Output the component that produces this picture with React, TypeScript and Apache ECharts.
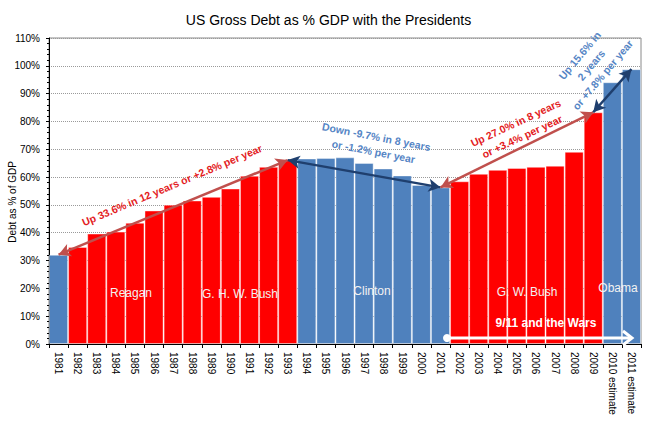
import React, { useEffect, useRef } from "react";
import * as echarts from "echarts";

const TITLE = "US Gross Debt as % GDP with the Presidents";
const years = [
  "1981", "1982", "1983", "1984", "1985", "1986", "1987", "1988", "1989", "1990",
  "1991", "1992", "1993", "1994", "1995", "1996", "1997", "1998", "1999", "2000",
  "2001", "2002", "2003", "2004", "2005", "2006", "2007", "2008", "2009",
  "2010 estimate", "2011 estimate",
];
const debt = [
  32.1, 34.9, 39.7, 40.4, 43.6, 48.0, 50.1, 51.6, 52.9, 55.9,
  60.5, 63.7, 66.1, 66.7, 66.9, 67.1, 65.1, 63.1, 60.6, 57.2,
  56.3, 58.5, 61.2, 62.6, 63.3, 63.7, 64.1, 69.1, 83.3,
  94.1, 98.8,
];
const party = [
  "D", "R", "R", "R", "R", "R", "R", "R", "R", "R",
  "R", "R", "R", "D", "D", "D", "D", "D", "D", "D",
  "D", "R", "R", "R", "R", "R", "R", "R", "R",
  "D", "D",
];
// arrows: [fromIndex, toIndex, colorKey]
const arrows: [number, number, string][] = [
  [0, 12, "R"],
  [12, 20, "D"],
  [20, 28, "R"],
  [28, 30, "D"],
];
const presidents = ["Reagan", "G. H. W. Bush", "Clinton", "G. W. Bush", "Obama"];
const annotations = [
  "Up 33.6% in 12 years or +2.8% per year",
  "Down -9.7% in 8 years\nor -1.2% per year",
  "Up 27.0% in 8 years\nor +3.4% per year",
  "Up 15.6% in\n2 years\nor +7.8% per year",
];
const yTicks = { min: 0, max: 110, interval: 10 };

const RED = "#FF0000";
const BLUE = "#4F81BD";
const ARROW_RED = "#C0504D";
const ARROW_BLUE = "#1F3F6E";
const TEXT_RED = "#E31B23";
const TEXT_BLUE = "#5585C5";
const FONT = "'Liberation Sans', Arial, sans-serif";

export default function App() {
  const ref = useRef<HTMLDivElement>(null);
  useEffect(() => {
    document.body.style.margin = "0";
    if (!ref.current) return;
    const chart = echarts.init(ref.current, null, { renderer: "svg" });
    const deg = (d: number) => (d * Math.PI) / 180;
    const presPos = [
      [131, 293],
      [240, 294],
      [372, 291],
      [527, 292],
      [618, 288],
    ];
    const annPos: [number, number, number, string][] = [
      [172, 185, 22.8, TEXT_RED],
      [375, 144, -11, TEXT_BLUE],
      [519, 130, 25, TEXT_RED],
      [591, 65, 50, TEXT_BLUE],
    ];
    const option: any = {
      animation: false,
      textStyle: { fontFamily: FONT },
      title: {
        text: TITLE,
        left: "center",
        top: 8,
        textStyle: { fontFamily: FONT, fontSize: 14, fontWeight: "normal", color: "#000" },
      },
      grid: {
        left: 49,
        right: 16,
        top: 38,
        bottom: 80,
        show: true,
        borderColor: "#8a8a8a",
        borderWidth: 1,
      },
      xAxis: {
        type: "category",
        data: years,
        axisLine: { lineStyle: { color: "#000", width: 1 } },
        axisTick: { show: true, length: 4, lineStyle: { color: "#000" } },
        axisLabel: {
          rotate: -90,
          interval: 0,
          fontSize: 10,
          fontFamily: FONT,
          color: "#000",
          margin: 8,
        },
      },
      yAxis: {
        type: "value",
        min: yTicks.min,
        max: yTicks.max,
        interval: yTicks.interval,
        axisLine: { show: true, lineStyle: { color: "#000", width: 1 } },
        axisTick: { show: true, length: 3, lineStyle: { color: "#000" } },
        minorTick: { show: true, splitNumber: 5, length: 2, lineStyle: { color: "#000" } },
        axisLabel: { formatter: "{value}%", fontSize: 10, fontFamily: FONT, color: "#000", margin: 9 },
        splitLine: { lineStyle: { type: "dotted", color: "#9a9a9a", width: 1 } },
      },
      series: [
        {
          type: "bar",
          data: debt.map((v, i) => ({
            value: v,
            itemStyle: { color: party[i] === "R" ? RED : BLUE },
          })),
          barCategoryGap: "0%",
          itemStyle: { borderColor: "rgba(255,255,255,0.42)", borderWidth: 1 },
          markLine: {
            silent: true,
            symbol: ["arrow", "arrow"],
            symbolSize: [10, 12],
            label: { show: false },
            lineStyle: { width: 2.5, type: "solid" },
            data: arrows.map(([a, b, c]) => [
              {
                coord: [years[a], debt[a]],
                lineStyle: { color: c === "R" ? ARROW_RED : ARROW_BLUE, width: 2.5, type: "solid" },
                itemStyle: { color: c === "R" ? ARROW_RED : ARROW_BLUE },
              },
              { coord: [years[b], debt[b]] },
            ]),
          },
        },
      ],
      graphic: [
        {
          type: "text",
          x: 12,
          y: 202,
          rotation: deg(90),
          style: {
            text: "Debt as % of GDP",
            fontSize: 10,
            fontFamily: FONT,
            fill: "#000",
            textAlign: "center",
            textVerticalAlign: "middle",
          },
        },
        ...presidents.map((p, i) => ({
          type: "text",
          x: presPos[i][0],
          y: presPos[i][1],
          z: 10,
          style: {
            text: p,
            fontSize: 12,
            fontFamily: FONT,
            fill: "#f2f2f2",
            textAlign: "center",
            textVerticalAlign: "middle",
          },
        })),
        ...annotations.map((t, i) => ({
          type: "text",
          x: annPos[i][0],
          y: annPos[i][1],
          rotation: deg(annPos[i][2]),
          z: 10,
          style: {
            text: t,
            fontSize: 10.5,
            fontWeight: "bold",
            fontFamily: FONT,
            fill: annPos[i][3],
            textAlign: "center",
            textVerticalAlign: "middle",
            lineHeight: 15,
          },
        })),
        {
          type: "line",
          z: 10,
          shape: { x1: 447, y1: 338, x2: 631, y2: 338 },
          style: { stroke: "#fff", lineWidth: 3 },
        },
        {
          type: "circle",
          z: 10,
          shape: { cx: 447, cy: 338, r: 4 },
          style: { fill: "#fff" },
        },
        {
          type: "polyline",
          z: 10,
          shape: { points: [[623, 331], [632, 338], [623, 345]] },
          style: { stroke: "#fff", lineWidth: 3, fill: null },
        },
        {
          type: "text",
          x: 546,
          y: 323,
          z: 10,
          style: {
            text: "9/11 and the Wars",
            fontSize: 12,
            fontWeight: "bold",
            fontFamily: FONT,
            fill: "#fff",
            textAlign: "center",
            textVerticalAlign: "middle",
          },
        },
      ],
    };
    chart.setOption(option);
    return () => chart.dispose();
  }, []);
  return <div ref={ref} style={{ width: 657, height: 424 }} />;
}
